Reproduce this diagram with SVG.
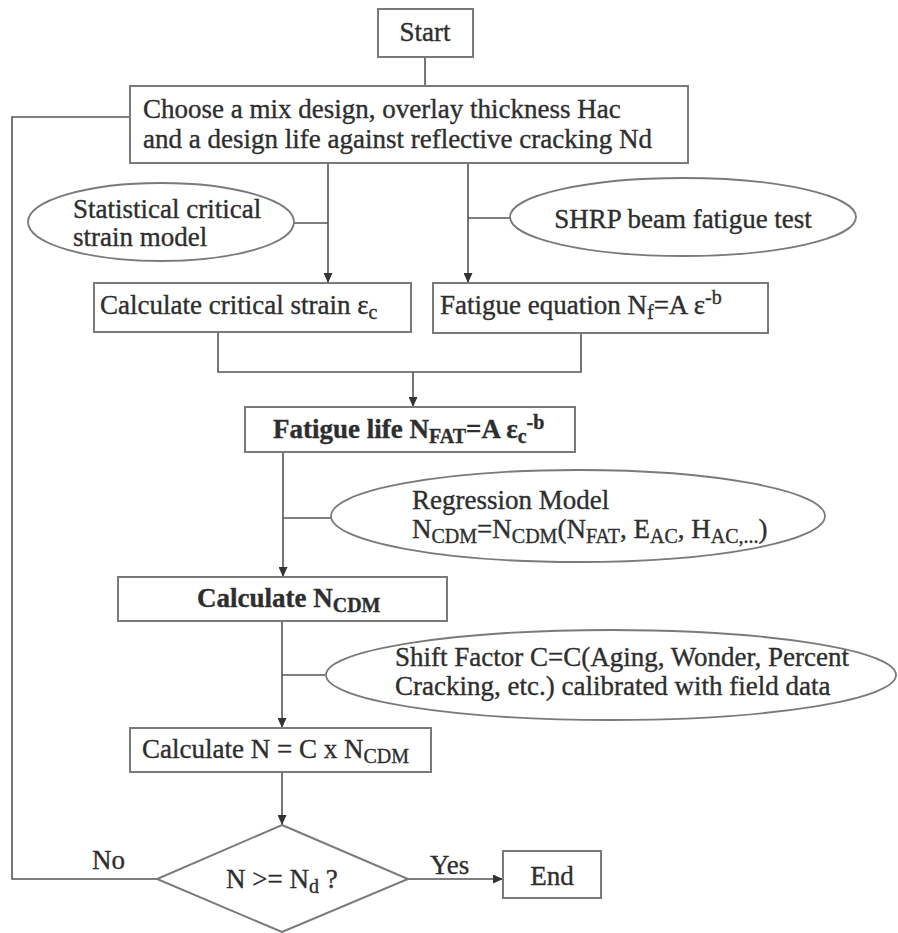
<svg xmlns="http://www.w3.org/2000/svg" width="898" height="933" viewBox="0 0 898 933">
<defs>
<style>
.box{fill:#fff;stroke:#7a7a7a;stroke-width:2}
.ell{fill:#fff;stroke:#7a7a7a;stroke-width:1.8}
.ln{fill:none;stroke:#555;stroke-width:1.6}
.t{font-family:"Liberation Serif","Times New Roman",serif;font-size:27px;fill:#2e2e2e;stroke:#2e2e2e;stroke-width:0.35}
.b{font-weight:bold}
.s{font-size:20px}
</style>
<marker id="ah" markerUnits="userSpaceOnUse" markerWidth="10" markerHeight="9" refX="10" refY="4.5" orient="auto">
<path d="M0,0 L10,4.5 L0,9 z" fill="#333"/>
</marker>
</defs>
<rect width="898" height="933" fill="#fff"/>
<g id="connectors">
<path class="ln" d="M425,57 V86"/>
<path class="ln" d="M328,163 V283" marker-end="url(#ah)"/>
<path class="ln" d="M293,223 H328"/>
<path class="ln" d="M468,163 V283" marker-end="url(#ah)"/>
<path class="ln" d="M468,218 H510"/>
<path class="ln" d="M218,332 V372 H581 V333"/>
<path class="ln" d="M413,372 V407" marker-end="url(#ah)"/>
<path class="ln" d="M283,452 V577" marker-end="url(#ah)"/>
<path class="ln" d="M283,518 H332"/>
<path class="ln" d="M282,621 V728" marker-end="url(#ah)"/>
<path class="ln" d="M282,675 H325"/>
<path class="ln" d="M282,772 V825" marker-end="url(#ah)" stroke-width="2"/>
<path class="ln" d="M157,879 H12 V117 H130"/>
<path class="ln" d="M408,879 H503" marker-end="url(#ah)"/>
</g>
<g id="start">
<rect class="box" x="378" y="9" width="95" height="48"/>
<text class="t" x="425" y="41" text-anchor="middle">Start</text>
</g>
<g id="choose">
<rect class="box" x="130" y="86" width="558" height="77"/>
<text class="t" x="143" y="118">Choose a mix design, overlay thickness Hac</text>
<text class="t" x="143" y="148">and a design life against reflective cracking Nd</text>
</g>
<g id="statistical">
<ellipse class="ell" cx="161" cy="222" rx="133" ry="39"/>
<text class="t" x="73" y="218">Statistical critical</text>
<text class="t" x="73" y="246">strain model</text>
</g>
<g id="shrp">
<ellipse class="ell" cx="683" cy="217" rx="173" ry="39"/>
<text class="t" x="683" y="228" text-anchor="middle">SHRP beam fatigue test</text>
</g>
<g id="critical-strain">
<rect class="box" x="94" y="283" width="317" height="49"/>
<text class="t" x="100" y="314">Calculate critical strain ε<tspan class="s" dy="5">c</tspan></text>
</g>
<g id="fatigue-equation">
<rect class="box" x="433" y="283" width="335" height="50"/>
<text class="t" x="440" y="314">Fatigue equation N<tspan class="s" dy="5">f</tspan><tspan dy="-5">=A ε</tspan><tspan class="s" dy="-10">-b</tspan></text>
</g>
<g id="fatigue-life">
<rect class="box" x="245" y="407" width="330" height="45"/>
<text class="t b" x="273" y="438">Fatigue life N<tspan class="s" dy="5">FAT</tspan><tspan dy="-5">=A ε</tspan><tspan class="s" dy="5">c</tspan><tspan class="s" dy="-14">-b</tspan></text>
</g>
<g id="regression">
<ellipse class="ell" cx="578" cy="516" rx="247" ry="46"/>
<text class="t" x="412" y="509">Regression Model</text>
<text class="t" x="412" y="538">N<tspan class="s" dy="5">CDM</tspan><tspan dy="-5">=N</tspan><tspan class="s" dy="5">CDM</tspan><tspan dy="-5">(N</tspan><tspan class="s" dy="5">FAT</tspan><tspan dy="-5">, E</tspan><tspan class="s" dy="5">AC</tspan><tspan dy="-5">, H</tspan><tspan class="s" dy="5">AC,...</tspan><tspan dy="-5">)</tspan></text>
</g>
<g id="calc-ncdm">
<rect class="box" x="118" y="577" width="329" height="44"/>
<text class="t b" x="197" y="607">Calculate N<tspan class="s" dy="5">CDM</tspan></text>
</g>
<g id="shift-factor">
<ellipse class="ell" cx="611" cy="675" rx="285" ry="45"/>
<text class="t" x="395" y="666">Shift Factor C=C(Aging, Wonder, Percent</text>
<text class="t" x="395" y="695">Cracking, etc.) calibrated with field data</text>
</g>
<g id="calc-n">
<rect class="box" x="130" y="728" width="301" height="44"/>
<text class="t" x="142" y="758">Calculate N = C x N<tspan class="s" dy="5">CDM</tspan></text>
</g>
<g id="decision">
<polygon class="box" points="282,825 408,879 282,932 157,879"/>
<text class="t" x="226" y="888">N &gt;= N<tspan class="s" dy="5">d</tspan><tspan dy="-5"> ?</tspan></text>
</g>
<g id="labels">
<text class="t" x="92" y="869">No</text>
<text class="t" x="430" y="874">Yes</text>
</g>
<g id="end">
<rect class="box" x="503" y="851" width="98" height="47"/>
<text class="t" x="552" y="885" text-anchor="middle">End</text>
</g>
</svg>
